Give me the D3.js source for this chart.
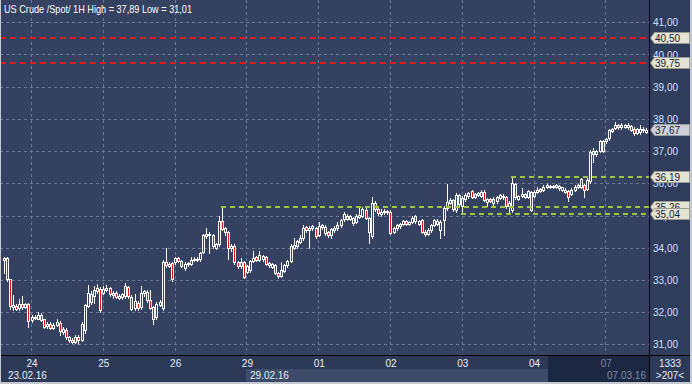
<!DOCTYPE html>
<html><head><meta charset="utf-8">
<script src="https://cdn.jsdelivr.net/npm/d3@7/dist/d3.min.js"></script>
<style>html,body{margin:0;padding:0;background:#2c3955;overflow:hidden}text{font-family:"Liberation Sans",Arial,sans-serif}</style>
</head><body><svg id="c" width="692" height="384"></svg>
<script>
const title = "US Crude /Spot/ 1H High = 37,89 Low = 31,01";
const opens = [33.62,33.68,33.02,32.15,32.2,32.12,32.25,32.15,32.24,
31.75,31.85,31.8,31.9,31.78,31.56,31.62,31.52,31.6,31.67,31.38,31.45,31.22,31.14,31.08,31.24,31.14,31.45,32.2,32.55,32.5,32.66,32.72,
32.6,32.7,32.74,32.52,32.6,32.45,32.48,32.5,32.78,32.48,32.12,32.28,32.15,32.58,32.62,32.38,32.15,31.85,32.22,32.12,33.56,33.44,33.52,
33.56,33.68,33.6,33.36,33.48,33.5,33.62,33.65,33.64,33.86,34.36,34.42,34.4,34.0,34.1,34.84,34.6,34.5,34.0,34.05,33.56,33.42,33.56,
33.26,33.3,33.6,33.72,33.62,33.66,33.7,33.46,33.4,33.46,33.22,33.12,33.28,33.45,33.6,34.0,34.05,34.18,34.3,34.64,34.56,34.6,34.6,
34.4,34.64,34.64,34.5,34.38,34.55,34.6,34.7,34.88,35.0,34.9,34.92,34.8,35.02,34.98,35.18,34.92,34.35,35.4,35.2,35.06,35.1,35.14,
35.12,34.5,34.6,34.66,34.74,34.82,34.74,34.8,34.98,34.74,34.86,34.5,34.42,34.55,34.7,34.84,34.55,34.85,35.22,35.4,35.48,35.16,35.64,
35.3,35.5,35.6,35.76,35.58,35.64,35.62,35.72,35.42,35.5,35.52,35.45,35.54,35.56,35.58,35.28,35.18,35.98,35.52,35.6,35.66,35.58,35.72,
35.62,35.74,35.76,35.8,35.88,35.88,35.88,35.9,35.93,35.8,35.74,35.76,35.68,35.8,35.88,35.9,35.94,35.82,36.06,37.0,36.9,37.0,37.3,
37.3,37.4,37.62,37.72,37.8,37.74,37.76,37.74,37.78,37.7,37.56,37.58,37.64,37.6];
const highs = [33.72,33.72,33.04,32.53,32.25,32.4,32.5,32.28,32.27,
31.9,31.92,32.0,31.97,31.8,31.7,31.68,31.65,31.8,31.72,31.55,31.5,31.26,31.2,31.3,31.3,31.7,32.25,32.84,32.65,32.8,32.88,32.78,
32.8,32.85,32.78,32.65,32.64,32.55,32.6,32.9,32.82,32.52,32.55,32.35,32.8,32.7,32.7,32.69,32.2,32.3,32.38,33.62,33.98,33.55,33.56,
33.72,33.72,33.62,33.55,33.56,33.72,33.7,33.7,33.88,34.42,34.6,34.5,34.44,34.15,35.0,35.26,34.64,34.52,34.1,34.1,33.58,33.68,33.6,
33.46,33.62,33.9,33.75,33.9,33.78,33.74,33.56,33.54,33.5,33.25,33.55,33.5,33.62,34.1,34.3,34.25,34.38,34.7,34.68,34.66,34.72,34.64,
34.8,34.74,34.7,34.52,34.6,34.68,34.8,34.9,35.1,35.05,35.02,34.96,35.05,35.22,35.25,35.22,34.96,35.58,35.45,35.24,35.2,35.2,35.18,
35.16,34.65,34.74,34.78,34.86,34.86,34.84,35.0,35.02,34.86,34.9,34.55,34.6,34.74,34.9,34.88,34.86,35.3,35.98,35.55,35.5,35.7,35.68,
35.6,35.7,35.74,35.8,35.7,35.74,35.78,35.8,35.54,35.54,35.56,35.6,35.68,35.68,35.62,35.44,36.19,36.02,35.64,35.85,35.7,35.8,35.76,
35.78,35.9,35.86,35.94,35.98,35.96,35.96,35.98,35.96,35.9,35.84,35.8,35.84,35.94,35.98,36.18,35.98,36.15,37.02,37.1,37.04,37.34,37.34,
37.42,37.7,37.72,37.89,37.84,37.86,37.84,37.88,37.82,37.74,37.72,37.82,37.74,37.72];
const lows = [33.22,32.98,32.1,32.05,32.05,32.08,32.1,32.12,31.55,
31.7,31.78,31.78,31.72,31.5,31.5,31.48,31.48,31.57,31.3,31.33,31.18,31.08,31.03,31.05,31.01,31.1,31.35,32.15,32.25,32.28,32.6,32.0,
32.55,32.65,32.5,32.45,32.44,32.4,32.42,32.45,32.45,32.05,32.08,32.05,32.1,32.5,32.32,32.1,31.62,31.8,32.18,32.08,33.4,33.4,32.98,
33.5,33.55,33.4,33.3,33.44,33.46,33.58,33.6,33.6,33.82,34.3,33.85,33.98,33.95,34.05,34.55,34.4,33.66,33.9,33.5,33.38,33.38,33.05,
33.2,33.25,33.55,33.58,33.58,33.6,33.46,33.4,33.36,33.18,33.05,33.08,33.25,33.4,33.55,33.95,34.0,34.15,34.25,34.5,33.98,34.55,34.3,
34.35,34.58,34.4,34.32,34.3,34.5,34.55,34.65,34.82,34.86,34.85,34.72,34.76,34.92,34.94,34.88,34.15,34.3,35.15,35.02,35.0,35.06,35.05,
34.42,34.45,34.55,34.6,34.7,34.7,34.7,34.76,34.78,34.7,34.45,34.35,34.38,34.5,34.66,34.7,34.3,34.4,35.18,35.36,35.15,35.12,35.3,
35.04,35.46,35.55,35.54,35.54,35.6,35.58,35.44,35.3,35.42,35.3,35.4,35.5,35.52,35.22,35.06,35.12,35.5,35.48,35.56,35.54,35.54,35.14,
35.58,35.7,35.72,35.76,35.84,35.84,35.85,35.86,35.8,35.76,35.7,35.46,35.64,35.76,35.84,35.86,35.58,35.78,36.0,36.65,36.86,36.96,36.96,
37.26,37.36,37.58,37.68,37.7,37.7,37.72,37.7,37.62,37.5,37.52,37.54,37.6,37.56];
const closes = [33.68,33.02,32.2,32.22,32.1,32.25,32.16,32.24,31.72,
31.85,31.82,31.92,31.76,31.55,31.62,31.52,31.6,31.7,31.4,31.46,31.22,31.12,31.07,31.22,31.12,31.62,32.22,32.6,32.3,32.68,32.74,32.05,
32.72,32.76,32.55,32.6,32.48,32.5,32.56,32.8,32.5,32.1,32.35,32.12,32.6,32.64,32.38,32.14,31.8,32.25,32.3,33.55,33.46,33.5,33.02,
33.68,33.6,33.44,33.5,33.52,33.62,33.66,33.64,33.84,34.38,34.42,34.38,34.04,34.1,34.82,34.58,34.5,34.0,34.05,33.55,33.42,33.56,33.08,
33.42,33.6,33.68,33.62,33.78,33.74,33.5,33.52,33.5,33.22,33.12,33.3,33.45,33.58,34.05,34.08,34.2,34.3,34.62,34.54,34.62,34.66,34.36,
34.66,34.7,34.46,34.38,34.58,34.62,34.7,34.85,35.05,34.9,34.98,34.77,35.0,34.96,35.2,34.92,34.5,35.4,35.2,35.08,35.12,35.15,35.1,
34.45,34.6,34.7,34.74,34.82,34.74,34.8,34.92,34.82,34.82,34.5,34.42,34.55,34.7,34.86,34.74,34.8,35.22,35.42,35.48,35.2,35.64,35.35,
35.55,35.64,35.7,35.58,35.66,35.7,35.72,35.48,35.5,35.46,35.4,35.56,35.64,35.62,35.28,35.4,36.0,35.56,35.6,35.68,35.58,35.76,35.18,
35.74,35.8,35.82,35.9,35.94,35.92,35.92,35.94,35.85,35.88,35.8,35.56,35.8,35.9,35.94,36.14,35.8,36.1,36.98,36.9,37.0,37.3,37.0,
37.38,37.66,37.68,37.8,37.74,37.82,37.8,37.8,37.66,37.56,37.68,37.7,37.7,37.67];
const dayLabels = ["24","25","26","29","01","02","03","04","07"];
const dayStartBar = [9,32,55,78,101,124,147,170,193];
const dateLabels = ["23.02.16","29.02.16","07.03.16"];
const yTicks = [31,32,33,34,35,36,37,38,39,40,41];
const redLevels = [40.50,39.75];
const greenLevels = [36.19,35.26,35.04];
const greenStartBar = [163,70,147];
const lastPrice = 37.67;
const barCountText = "1333";
const visibleText = ">207<";

const W=692,H=384, plotR=649, plotB=355;
const svg=d3.select("#c");
const fmt=v=>d3.format(".2f")(v).replace(".",",");
const x=d3.scaleBand().domain(d3.range(opens.length)).range([3,plotR]);
const y=d3.scaleLinear().domain([31,41]).range([344.3,22.3]);
const BG="#344160";

svg.append("rect").attr("width",W).attr("height",H).attr("fill","#2d3a57");
svg.append("rect").attr("width",plotR).attr("height",plotB).attr("fill",BG);
svg.append("rect").attr("x",plotR).attr("width",W-plotR).attr("height",plotB).attr("fill","#2f3c5b");

// grid
const g=svg.append("g");
yTicks.forEach(t=>{
  const yy=Math.round(y(t))+0.5;
  g.append("line").attr("x1",0).attr("x2",plotR).attr("y1",yy).attr("y2",yy)
   .attr("stroke","#6a7895").attr("stroke-dasharray","3,3");
});
dayStartBar.forEach(b=>{
  const xx=Math.round(x(b))+0.5;
  g.append("line").attr("x1",xx).attr("x2",xx).attr("y1",0).attr("y2",plotB)
   .attr("stroke","#6a7895").attr("stroke-dasharray","3,3");
});

// red levels
redLevels.forEach(v=>{
  svg.append("line").attr("x1",0).attr("x2",plotR).attr("y1",Math.round(y(v))).attr("y2",Math.round(y(v)))
   .attr("stroke","#e01818").attr("stroke-width",2).attr("stroke-dasharray","6,4");
});

// candles
const cg=svg.append("g");
opens.forEach((o,i)=>{
  const c=closes[i], px=Math.floor(x(i));
  const wx=px+1.5;
  cg.append("line").attr("x1",wx).attr("x2",wx)
    .attr("y1",Math.round(y(highs[i]))).attr("y2",Math.round(y(lows[i]))+1)
    .attr("stroke","#fff").attr("stroke-width",1);
  const t=Math.round(y(Math.max(o,c))), b=Math.round(y(Math.min(o,c)));
  cg.append("rect").attr("x",px+0.5).attr("y",t+0.5).attr("width",2).attr("height",Math.max(b-t,1))
    .attr("fill",c<o?"#e80e0e":BG).attr("stroke","#fff").attr("stroke-width",1);
});

// green levels
greenLevels.forEach((v,k)=>{
  svg.append("line").attr("x1",Math.floor(x(greenStartBar[k]))).attr("x2",plotR)
   .attr("y1",Math.round(y(v))).attr("y2",Math.round(y(v)))
   .attr("stroke","#9cc63c").attr("stroke-width",2).attr("stroke-dasharray","5,4");
});

// title
svg.append("text").attr("x",4).attr("y",13).attr("fill","#fff").attr("font-size",10.5)
  .attr("textLength",188).attr("lengthAdjust","spacingAndGlyphs").text(title);

// y labels
yTicks.forEach(t=>{
  svg.append("text").attr("x",653).attr("y",y(t)+4).attr("fill","#cfe0ff").attr("font-size",10).text(fmt(t));
});

// tags
function tag(v,fill,stroke){
  const yy=Math.round(y(v));
  svg.append("path").attr("d",`M650.5,${yy} L654.5,${yy-5.5} L689.5,${yy-5.5} L689.5,${yy+5.5} L654.5,${yy+5.5} Z`)
    .attr("fill",fill).attr("stroke",stroke);
  svg.append("text").attr("x",655).attr("y",yy+4).attr("fill","#1a2233").attr("font-size",10).text(fmt(v));
}
redLevels.forEach(v=>tag(v,"#e4e4d4","#9a9a90"));
greenLevels.forEach(v=>tag(v,"#e4e4d4","#9a9a90"));
tag(lastPrice,"#cdd0d6","#9a9ca2");

// bottom axis
svg.append("rect").attr("x",Math.round(x(dayStartBar[3])))
  .attr("y",369).attr("width",548-Math.round(x(dayStartBar[3]))).attr("height",13).attr("fill","#3d4a68");
svg.append("rect").attr("x",548).attr("y",356).attr("width",plotR-548).attr("height",26).attr("fill","#1c2742");
dayLabels.forEach((d,k)=>{
  const last=k===dayLabels.length-1;
  svg.append("text").attr("x",x(dayStartBar[k])+1).attr("y",367).attr("text-anchor","middle")
    .attr("fill",last?"#7e8aa3":"#e6ecf6").attr("font-size",10).text(d);
});
svg.append("text").attr("x",8).attr("y",379).attr("fill","#e6ecf6").attr("font-size",10).text(dateLabels[0]);
svg.append("text").attr("x",Math.round(x(dayStartBar[3]))+4).attr("y",379).attr("fill","#e6ecf6").attr("font-size",10).text(dateLabels[1]);
svg.append("text").attr("x",646).attr("y",379).attr("text-anchor","end").attr("fill","#7e8aa3").attr("font-size",10).text(dateLabels[2]);
svg.append("text").attr("x",670).attr("y",367).attr("text-anchor","middle").attr("fill","#e6ecf6").attr("font-size",10).text(barCountText);
svg.append("text").attr("x",670).attr("y",379).attr("text-anchor","middle").attr("fill","#e6ecf6").attr("font-size",10).text(visibleText);

// separators
svg.append("line").attr("x1",plotR+0.5).attr("x2",plotR+0.5).attr("y1",0).attr("y2",H).attr("stroke","#000");
svg.append("line").attr("x1",0).attr("x2",W).attr("y1",plotB+0.5).attr("y2",plotB+0.5).attr("stroke","#000");
// frame
svg.append("rect").attr("x",0).attr("y",0).attr("width",1).attr("height",H).attr("fill","#c4c8d0");
svg.append("rect").attr("x",690).attr("y",0).attr("width",2).attr("height",H).attr("fill","#c4c8d0");
svg.append("rect").attr("x",0).attr("y",382).attr("width",W).attr("height",2).attr("fill","#c4c8d0");
</script></body></html>
